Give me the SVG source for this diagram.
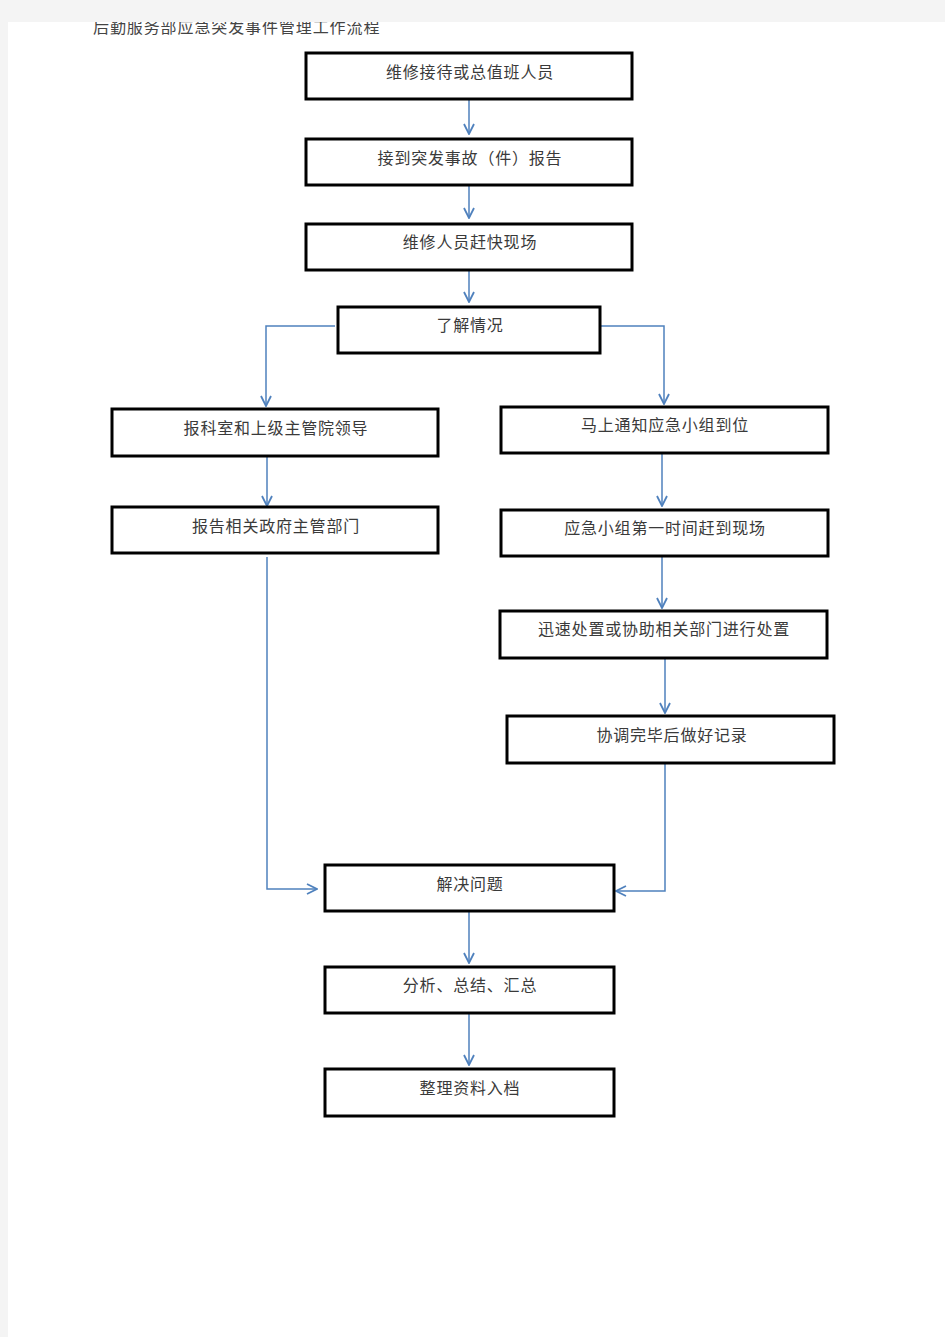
<svg xmlns="http://www.w3.org/2000/svg" width="945" height="1337" viewBox="0 0 945 1337">
<style>
.box{fill:#fff;stroke:#000;stroke-width:3}
.lbl{font-family:"Liberation Serif","Noto Sans CJK SC",serif;font-size:16px;letter-spacing:0.8px;fill:#3a3a3a;text-anchor:middle}
.title{font-family:"Liberation Serif","Noto Sans CJK SC",serif;font-size:16px;letter-spacing:0.9px;fill:#444}
.c{fill:none;stroke:#4f81bd;stroke-width:1.5}
</style>
<defs>
<marker id="ah" viewBox="0 0 12 12" refX="11" refY="6" markerWidth="12" markerHeight="12" markerUnits="userSpaceOnUse" orient="auto">
<path d="M1,1 L11,6 L1,11" fill="none" stroke="#4f81bd" stroke-width="1.8"/>
</marker>
</defs>
<rect width="945" height="1337" fill="#fff"/>
<text class="title" x="93" y="33">后勤服务部应急突发事件管理工作流程</text>
<rect x="0" y="0" width="945" height="22" fill="#f4f4f4"/>
<rect x="0" y="0" width="8" height="1337" fill="#f4f4f4"/>
<g id="connectors">
<path class="c" marker-end="url(#ah)" d="M469,99 V134"/>
<path class="c" marker-end="url(#ah)" d="M469,185 V218"/>
<path class="c" marker-end="url(#ah)" d="M469,270 V302"/>
<path class="c" marker-end="url(#ah)" d="M335,326 H266 V406"/>
<path class="c" marker-end="url(#ah)" d="M597,326 H664 V404"/>
<path class="c" marker-end="url(#ah)" d="M267,456 V506"/>
<path class="c" marker-end="url(#ah)" d="M662,453 V506"/>
<path class="c" marker-end="url(#ah)" d="M662,556 V608"/>
<path class="c" marker-end="url(#ah)" d="M665,659 V713"/>
<path class="c" marker-end="url(#ah)" d="M267,557 V889 H317"/>
<path class="c" marker-end="url(#ah)" d="M665,763 V891 H616"/>
<path class="c" marker-end="url(#ah)" d="M469,911 V963"/>
<path class="c" marker-end="url(#ah)" d="M469,1013 V1065"/>
</g>
<g id="n1"><rect class="box" x="306" y="53" width="326" height="46"/><text class="lbl" x="470" y="78">维修接待或总值班人员</text></g>
<g id="n2"><rect class="box" x="306" y="139" width="326" height="46"/><text class="lbl" x="470" y="164">接到突发事故（件）报告</text></g>
<g id="n3"><rect class="box" x="306" y="224" width="326" height="46"/><text class="lbl" x="470" y="248">维修人员赶快现场</text></g>
<g id="n4"><rect class="box" x="338" y="307" width="262" height="46"/><text class="lbl" x="470" y="331">了解情况</text></g>
<g id="n5"><rect class="box" x="112" y="409" width="326" height="47"/><text class="lbl" x="276" y="434">报科室和上级主管院领导</text></g>
<g id="n6"><rect class="box" x="501" y="407" width="327" height="46"/><text class="lbl" x="665" y="431">马上通知应急小组到位</text></g>
<g id="n7"><rect class="box" x="112" y="507" width="326" height="46"/><text class="lbl" x="276" y="532">报告相关政府主管部门</text></g>
<g id="n8"><rect class="box" x="501" y="510" width="327" height="46"/><text class="lbl" x="665" y="534">应急小组第一时间赶到现场</text></g>
<g id="n9"><rect class="box" x="500" y="611" width="327" height="47"/><text class="lbl" x="664" y="635">迅速处置或协助相关部门进行处置</text></g>
<g id="n10"><rect class="box" x="507" y="716" width="327" height="47"/><text class="lbl" x="672" y="741">协调完毕后做好记录</text></g>
<g id="n11"><rect class="box" x="325" y="865" width="289" height="46"/><text class="lbl" x="470" y="890">解决问题</text></g>
<g id="n12"><rect class="box" x="325" y="967" width="289" height="46"/><text class="lbl" x="470" y="991">分析、总结、汇总</text></g>
<g id="n13"><rect class="box" x="325" y="1069" width="289" height="47"/><text class="lbl" x="470" y="1094">整理资料入档</text></g>
</svg>
